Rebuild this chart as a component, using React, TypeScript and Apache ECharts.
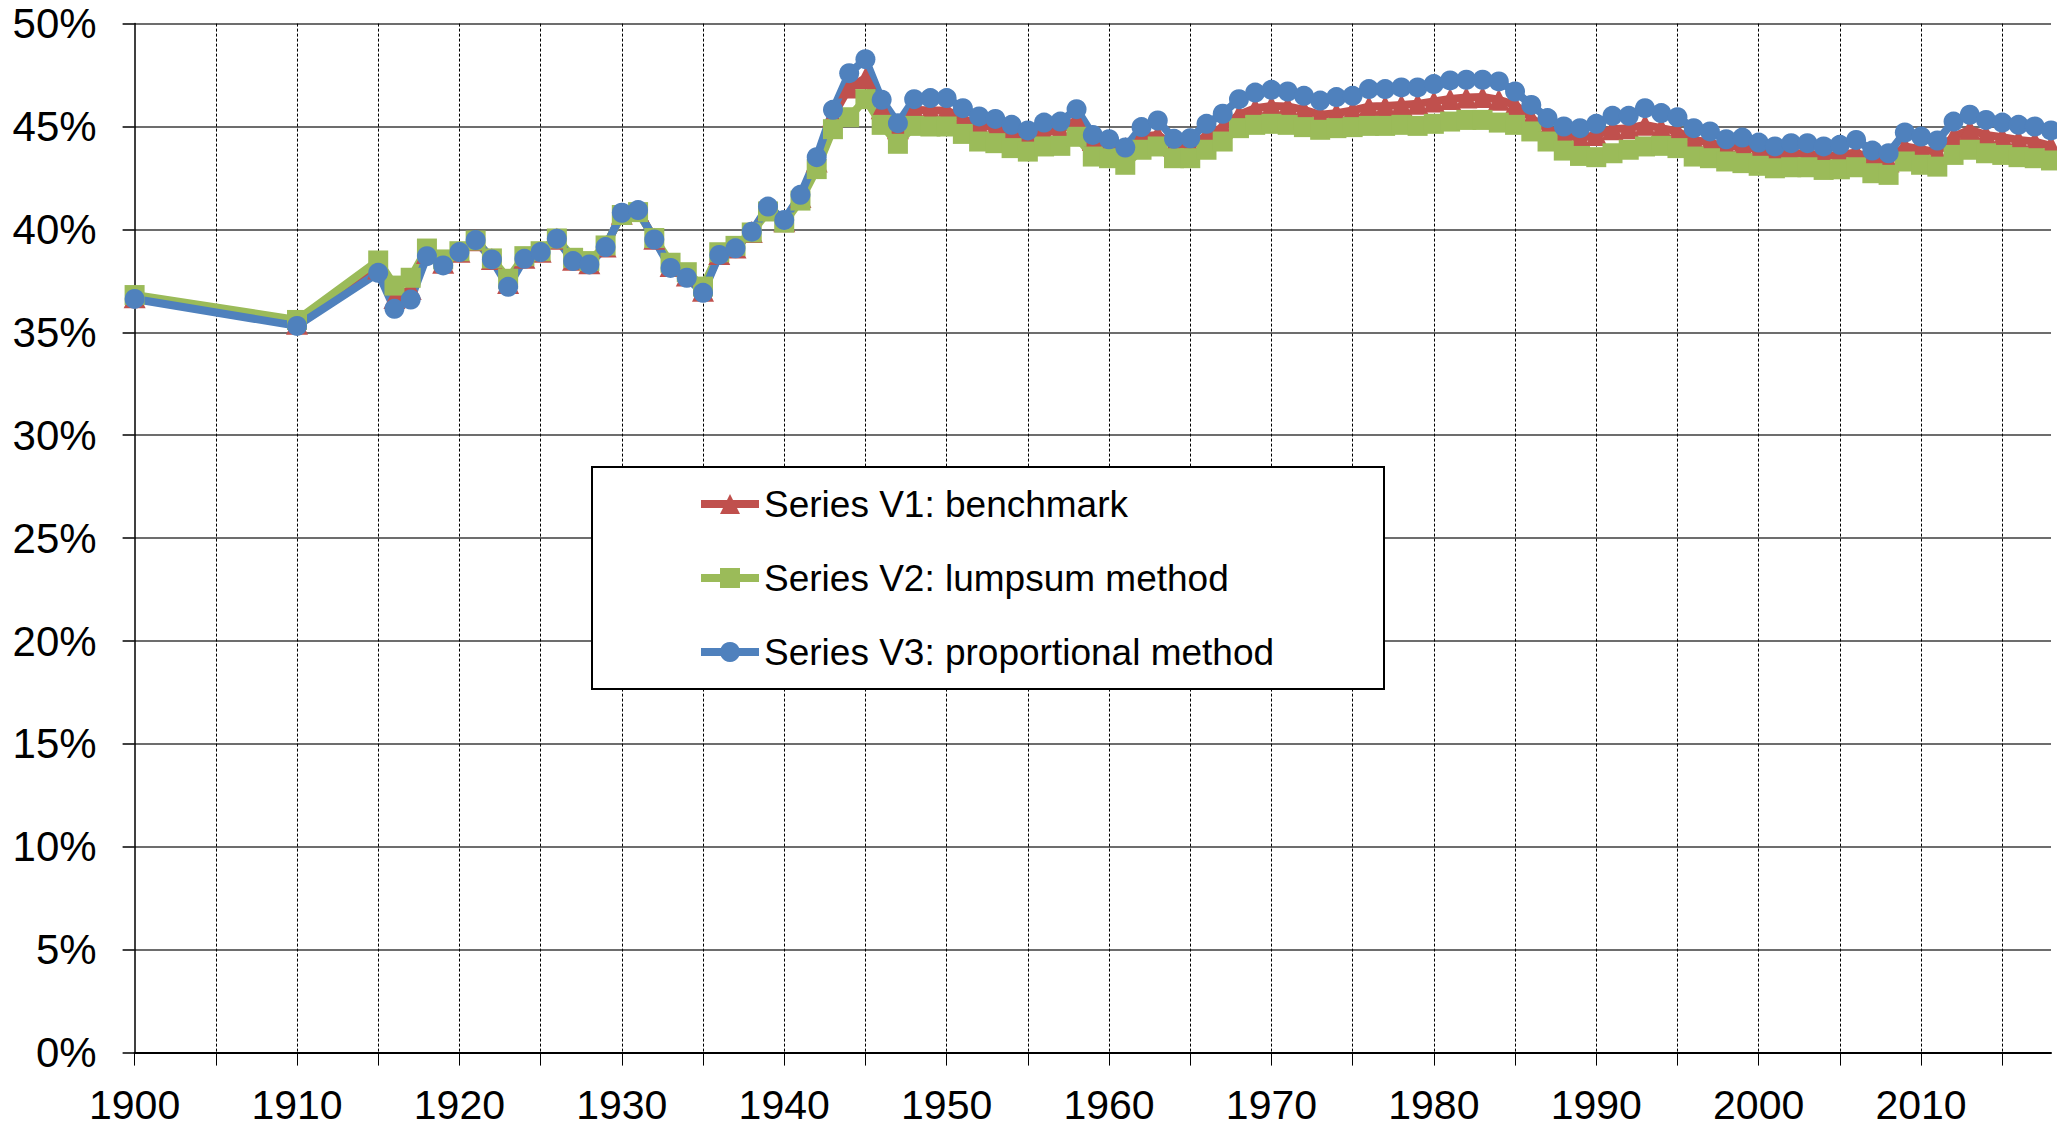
import React, { useEffect, useRef } from "react";
import * as echarts from "echarts";

const years: number[] = [
  1900, 1910, 1915, 1916, 1917, 1918, 1919, 1920, 1921, 1922, 1923, 1924, 1925, 1926, 1927, 1928, 1929,
  1930, 1931, 1932, 1933, 1934, 1935, 1936, 1937, 1938, 1939, 1940, 1941, 1942, 1943, 1944, 1945, 1946,
  1947, 1948, 1949, 1950, 1951, 1952, 1953, 1954, 1955, 1956, 1957, 1958, 1959, 1960, 1961, 1962, 1963,
  1964, 1965, 1966, 1967, 1968, 1969, 1970, 1971, 1972, 1973, 1974, 1975, 1976, 1977, 1978, 1979, 1980,
  1981, 1982, 1983, 1984, 1985, 1986, 1987, 1988, 1989, 1990, 1991, 1992, 1993, 1994, 1995, 1996, 1997,
  1998, 1999, 2000, 2001, 2002, 2003, 2004, 2005, 2006, 2007, 2008, 2009, 2010, 2011, 2012, 2013, 2014,
  2015, 2016, 2017, 2018,
];

const seriesV1Benchmark: number[] = [
  36.7, 35.42, 38.1, 36.67, 37.1, 38.85, 38.38, 38.92, 39.47, 38.56, 37.4, 38.62, 38.92, 39.55, 38.52, 38.36, 39.17,
  40.76, 40.9, 39.54, 38.22, 37.76, 37.02, 38.8, 39.12, 39.87, 41.0, 40.4, 41.58, 43.3, 45.5, 46.9, 47.35, 45.89,
  44.92, 45.81, 45.78, 45.78, 45.4, 45.03, 44.97, 44.68, 44.51, 44.76, 44.81, 45.32, 44.35, 44.11, 43.95, 44.51, 44.59,
  44.06, 44.06, 44.55, 44.97, 45.57, 45.89, 46.0, 45.97, 45.81, 45.57, 45.65, 45.78, 45.97, 46.0, 46.05, 46.1, 46.22,
  46.34, 46.41, 46.43, 46.3, 46.05, 45.41, 44.87, 44.59, 44.43, 44.59, 44.87, 44.92, 45.08, 44.92, 44.76, 44.35, 44.22,
  44.0, 44.06, 43.87, 43.62, 43.7, 43.7, 43.57, 43.62, 43.74, 43.38, 43.3, 44.03, 43.9, 43.74, 44.51, 44.84, 44.59,
  44.48, 44.35, 44.27, 44.06,
];

const seriesV2Lumpsum: number[] = [
  36.81, 35.6, 38.49, 37.27, 37.65, 39.07, 38.54, 38.94, 39.46, 38.59, 37.6, 38.7, 38.94, 39.56, 38.62, 38.46, 39.22,
  40.7, 40.84, 39.58, 38.38, 37.92, 37.22, 38.89, 39.2, 39.85, 40.87, 40.33, 41.4, 42.93, 44.87, 45.45, 46.33, 45.08,
  44.16, 45.03, 45.0, 45.0, 44.64, 44.27, 44.19, 43.95, 43.78, 44.03, 44.06, 44.5, 43.54, 43.46, 43.14, 43.87, 44.03,
  43.46, 43.46, 43.87, 44.27, 44.92, 45.08, 45.13, 45.08, 44.97, 44.84, 44.92, 44.97, 45.03, 45.03, 45.08, 45.03, 45.13,
  45.24, 45.32, 45.32, 45.19, 45.08, 44.76, 44.27, 43.83, 43.57, 43.51, 43.7, 43.87, 44.03, 44.06, 43.95, 43.54, 43.46,
  43.3, 43.22, 43.09, 42.97, 43.02, 43.02, 42.89, 42.92, 43.02, 42.73, 42.65, 43.3, 43.14, 43.05, 43.62, 43.87, 43.7,
  43.62, 43.51, 43.46, 43.35,
];

const seriesV3Proportional: number[] = [
  36.62, 35.31, 37.89, 36.14, 36.59, 38.7, 38.25, 38.9, 39.48, 38.54, 37.21, 38.57, 38.9, 39.55, 38.46, 38.3, 39.14,
  40.81, 40.94, 39.51, 38.13, 37.65, 36.92, 38.76, 39.08, 39.89, 41.11, 40.46, 41.68, 43.51, 45.81, 47.59, 48.27, 46.3,
  45.16, 46.33, 46.38, 46.38, 45.89, 45.49, 45.37, 45.08, 44.81, 45.19, 45.24, 45.84, 44.59, 44.38, 43.98, 44.97, 45.29,
  44.4, 44.43, 45.13, 45.62, 46.33, 46.65, 46.78, 46.7, 46.49, 46.26, 46.43, 46.49, 46.82, 46.82, 46.9, 46.9, 47.06,
  47.24, 47.27, 47.27, 47.19, 46.7, 46.05, 45.41, 45.0, 44.92, 45.13, 45.52, 45.52, 45.89, 45.65, 45.45, 44.92, 44.76,
  44.38, 44.46, 44.22, 44.03, 44.19, 44.19, 44.03, 44.11, 44.35, 43.83, 43.7, 44.71, 44.51, 44.32, 45.24, 45.57, 45.32,
  45.19, 45.08, 45.0, 44.81,
];

const seriesNames: string[] = [
  "Series V1: benchmark",
  "Series V2: lumpsum method",
  "Series V3: proportional method",
];

const FONT = "'Liberation Sans', Arial, sans-serif";

function pairs(vals: number[]): [number, number][] {
  return years.map((y, i) => [y, vals[i]]);
}

export default function App() {
  const ref = useRef<HTMLDivElement>(null);

  useEffect(() => {
    if (!ref.current) return;
    const chart = echarts.init(ref.current, null, { renderer: "svg" });
    const lineW = 8;
    chart.setOption({
      animation: false,
      backgroundColor: "#ffffff",
      grid: { left: 134.6, right: 6, top: 23.6, bottom: 74.4, containLabel: false },
      xAxis: {
        type: "value",
        min: 1900,
        max: 2018,
        interval: 5,
        axisLine: { show: true, lineStyle: { color: "#000", width: 2 } },
        axisTick: { show: true, length: 13, lineStyle: { color: "#000", width: 1 } },
        axisLabel: {
          color: "#000",
          fontFamily: FONT,
          fontSize: 41,
          margin: 32,
          showMaxLabel: false,
          formatter: (v: number) => (v % 10 === 0 ? String(v) : ""),
        },
        splitLine: {
          show: true,
          showMinLine: false,
          showMaxLine: false,
          lineStyle: { color: "#000", width: 1, type: [3, 2] },
        },
      },
      yAxis: {
        type: "value",
        min: 0,
        max: 50,
        interval: 5,
        axisLine: { show: true, lineStyle: { color: "#000", width: 1.5 } },
        axisTick: { show: true, length: 12, lineStyle: { color: "#000", width: 1.5 } },
        axisLabel: {
          color: "#000",
          fontFamily: FONT,
          fontSize: 42,
          margin: 38,
          formatter: "{value}%",
        },
        splitLine: { show: true, lineStyle: { color: "#3c3c3c", width: 1.6 } },
      },
      graphic: [
        {
          type: "rect",
          z: 3,
          shape: { x: 592, y: 467, width: 792, height: 222 },
          style: { fill: "#ffffff", stroke: "#000", lineWidth: 2 },
        },
      ],
      legend: {
        orient: "vertical",
        left: 697,
        top: 484,
        padding: 0,
        itemGap: 34,
        itemWidth: 58,
        itemHeight: 25,
        z: 4,
        textStyle: { color: "#000", fontFamily: FONT, fontSize: 37, lineHeight: 40 },
        lineStyle: { width: 8 },
        data: seriesNames,
      },
      series: [
        {
          name: seriesNames[0],
          type: "line",
          data: pairs(seriesV1Benchmark),
          symbol: "triangle",
          symbolSize: 22,
          showAllSymbol: true,
          lineStyle: { color: "#C0504D", width: lineW },
          itemStyle: { color: "#C0504D" },
          z: 2,
        },
        {
          name: seriesNames[1],
          type: "line",
          data: pairs(seriesV2Lumpsum),
          symbol: "rect",
          symbolSize: 20,
          showAllSymbol: true,
          lineStyle: { color: "#9BBB59", width: lineW },
          itemStyle: { color: "#9BBB59" },
          z: 2,
        },
        {
          name: seriesNames[2],
          type: "line",
          data: pairs(seriesV3Proportional),
          symbol: "circle",
          symbolSize: 20,
          showAllSymbol: true,
          lineStyle: { color: "#4F81BD", width: lineW },
          itemStyle: { color: "#4F81BD" },
          z: 2,
        },
      ],
    });
    return () => chart.dispose();
  }, []);

  return (
    <div
      ref={ref}
      style={{ position: "absolute", left: 0, top: 0, width: 2057, height: 1127 }}
    />
  );
}
